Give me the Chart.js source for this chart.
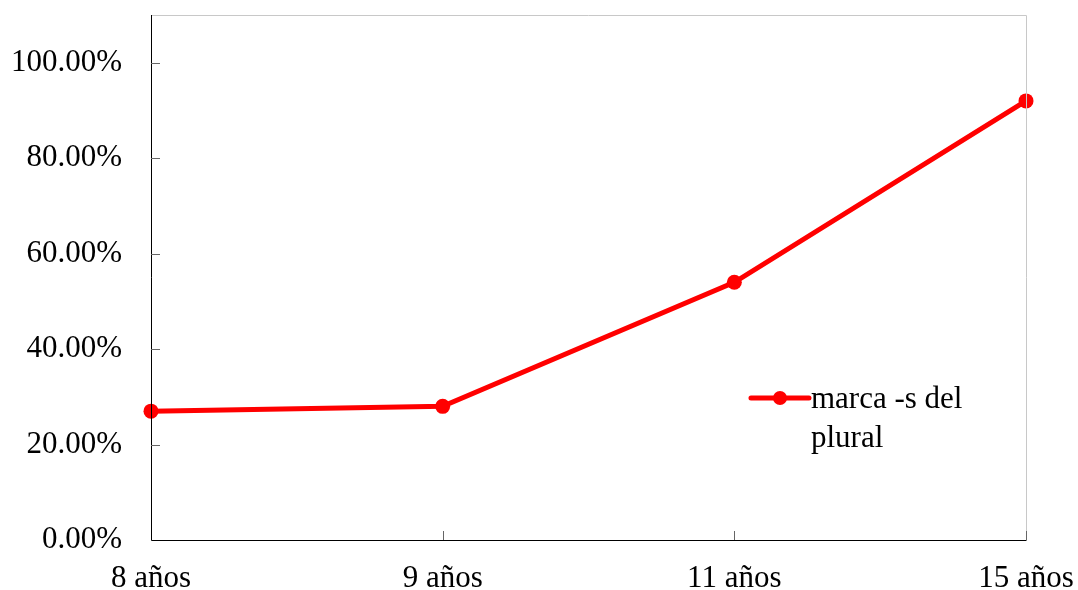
<!DOCTYPE html>
<html>
<head>
<meta charset="utf-8">
<script src="https://cdn.jsdelivr.net/npm/chart.js@4/dist/chart.umd.min.js"></script>
<style>
  html, body { margin: 0; padding: 0; background: #fff; }
  #wrap { width: 1078px; height: 590px; position: relative; }
</style>
</head>
<body>
<div id="wrap"><canvas id="c" width="1078" height="590"></canvas></div>
<script>
// Age groups and share of plural "-s" marking (%)
const categories = ['8 años', '9 años', '11 años', '15 años'];
const pluralMarking = [27, 28, 54, 92];
const seriesLabel = ['marca -s del', 'plural'];
const yTicks = [0, 20, 40, 60, 80, 100];

const FONT = { family: '"Liberation Serif", "Times New Roman", serif', size: 31 };
const RED = '#ff0000';

// Frame around the plot: black left/bottom axes, light grey top/right edges,
// short tick marks pointing into the plot area.
const framePlugin = {
  id: 'frame',
  afterDraw(chart) {
    const { ctx, chartArea: a, scales } = chart;
    ctx.save();
    ctx.lineWidth = 1;
    ctx.strokeStyle = '#c8c8c8';
    ctx.beginPath();
    ctx.moveTo(a.left, a.top + 0.5); ctx.lineTo(a.right + 0.5, a.top + 0.5);
    ctx.lineTo(a.right + 0.5, a.bottom);
    ctx.stroke();
    ctx.strokeStyle = '#000';
    ctx.beginPath();
    ctx.moveTo(a.left + 0.5, a.top); ctx.lineTo(a.left + 0.5, a.bottom + 0.5);
    ctx.lineTo(a.right + 0.5, a.bottom + 0.5);
    ctx.stroke();
    ctx.strokeStyle = '#666';
    ctx.beginPath();
    yTicks.forEach(v => {
      if (v === 0) return;
      const y = Math.round(scales.y.getPixelForValue(v)) + 0.5;
      ctx.moveTo(a.left, y); ctx.lineTo(a.left + 9, y);
    });
    categories.forEach((c, i) => {
      if (i === 0) return;
      const x = Math.round(scales.x.getPixelForValue(i)) + 0.5;
      ctx.moveTo(x, a.bottom); ctx.lineTo(x, a.bottom - 9);
    });
    ctx.stroke();
    ctx.restore();
  }
};

// Two-line legend placed inside the plot area
const legendPlugin = {
  id: 'innerLegend',
  afterDraw(chart) {
    const { ctx, chartArea: a } = chart;
    const ds = chart.data.datasets[0];
    const x0 = a.left + (a.right - a.left) * 0.6857;
    const y0 = a.top + (a.bottom - a.top) * 0.7295;
    ctx.save();
    ctx.strokeStyle = ds.borderColor;
    ctx.lineWidth = ds.borderWidth;
    ctx.lineCap = 'round';
    ctx.beginPath();
    ctx.moveTo(x0, y0); ctx.lineTo(x0 + 58, y0);
    ctx.stroke();
    ctx.fillStyle = ds.pointBackgroundColor;
    ctx.beginPath();
    ctx.arc(x0 + 29, y0, 7, 0, Math.PI * 2);
    ctx.fill();
    ctx.fillStyle = '#000';
    ctx.font = `${FONT.size}px ${FONT.family}`;
    ctx.textBaseline = 'middle';
    ctx.textAlign = 'left';
    seriesLabel.forEach((t, i) => ctx.fillText(t, x0 + 60, y0 + 2 + i * 39));
    ctx.restore();
  }
};

new Chart(document.getElementById('c'), {
  type: 'line',
  data: {
    labels: categories,
    datasets: [{
      label: seriesLabel.join(' '),
      data: pluralMarking,
      borderColor: RED,
      backgroundColor: RED,
      pointBackgroundColor: RED,
      pointBorderColor: RED,
      borderWidth: 5,
      pointRadius: 7.5,
      pointBorderWidth: 0,
      tension: 0,
      clip: false
    }]
  },
  options: {
    responsive: false,
    animation: false,
    devicePixelRatio: 1,
    layout: { padding: { top: 15, right: 52, left: 0, bottom: 0 } },
    plugins: { legend: { display: false }, tooltip: { enabled: false } },
    scales: {
      x: {
        type: 'category',
        offset: false,
        grid: { display: false, drawTicks: false },
        border: { display: false },
        ticks: { color: '#000', font: FONT, padding: 20, maxRotation: 0, autoSkip: false },
        afterFit(s) { s.height = 50; s.paddingLeft = 0; s.paddingRight = 0; }
      },
      y: {
        min: 0,
        max: 110,
        grid: { display: false, drawTicks: false },
        border: { display: false },
        afterBuildTicks(s) { s.ticks = yTicks.map(v => ({ value: v })); },
        ticks: {
          color: '#000', font: FONT, padding: 29,
          callback: v => v.toFixed(2) + '%'
        },
        afterFit(s) { s.width = 151; s.paddingTop = 0; s.paddingBottom = 0; }
      }
    }
  },
  plugins: [framePlugin, legendPlugin]
});
</script>
</body>
</html>
